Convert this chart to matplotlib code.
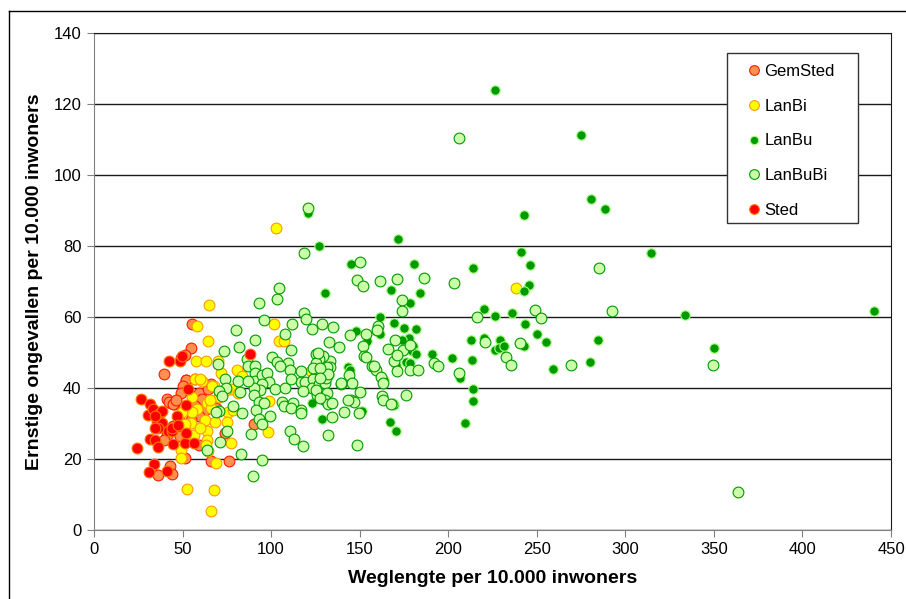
import matplotlib
matplotlib.use("Agg")
import matplotlib.pyplot as plt
from matplotlib.lines import Line2D
from matplotlib.patches import Rectangle

plt.rcParams['font.family'] = ['Liberation Sans', 'DejaVu Sans']

# GemSted
gem_x = [39.8, 54.5, 55.4, 51.8, 51.2, 41.4, 43.4, 45.3, 59.3, 61.0, 62.6, 59.3, 54.5, 47.9,
         46.3, 41.4, 44.7, 39.8, 43.0, 44.3, 36.2, 59.3, 76.1, 66.2, 51.2, 90.3, 74.0, 64.2,
         65.9, 49.0, 52.2, 50.3, 42.4, 44.6, 57.0, 36.0, 69.1, 49.4, 46.2, 48.4, 56.9]
gem_y = [43.9, 51.4, 58.1, 42.3, 49.3, 36.9, 35.8, 35.6, 38.5, 36.9, 33.7, 32.1, 31.0, 31.0,
         28.8, 26.9, 29.4, 25.4, 17.9, 15.7, 15.6, 24.0, 19.5, 19.5, 20.2, 29.9, 27.2, 39.6,
         41.2, 48.4, 42.2, 40.7, 36.1, 35.6, 35.0, 30.0, 34.4, 38.6, 36.7, 26.4, 42.4]

# LanBi
bi_x = [102.7, 65.2, 58.4, 64.4, 101.7, 104.6, 107.3, 57.7, 63.3, 70.2, 80.5, 71.7, 61.0, 67.5,
        77.3, 81.5, 70.8, 55.4, 63.6, 65.9, 58.4, 55.1, 62.6, 68.2, 75.7, 75.0, 54.5, 49.6,
        51.2, 63.6, 56.7, 63.6, 63.3, 48.9, 48.9, 77.6, 98.5, 98.8, 69.1, 52.5, 67.8, 66.2,
        238.0, 74.7, 64.2, 60.0, 56.9, 60.1, 66.4, 83.8, 78.5, 65.4, 122.7]
bi_y = [85.1, 63.4, 57.4, 53.1, 58.1, 53.3, 53.3, 47.5, 47.6, 47.5, 45.2, 44.3, 42.1, 40.7,
        39.8, 38.5, 37.4, 37.4, 35.8, 34.4, 34.0, 33.1, 31.0, 30.5, 33.1, 30.5, 30.1, 33.1,
        29.9, 27.8, 26.7, 25.3, 24.0, 22.4, 20.2, 24.5, 27.5, 36.4, 18.8, 11.5, 11.3, 5.3,
        68.2, 39.4, 22.2, 28.8, 42.6, 42.4, 40.5, 43.4, 33.9, 36.7, 44.7]

# LanBu
bu_x = [226.3, 275.2, 280.4, 288.3, 242.6, 121.0, 126.8, 171.5, 314.3, 241.3, 180.6, 145.1,
        214.2, 245.9, 130.4, 167.9, 184.2, 245.5, 242.6, 178.7, 440.5, 333.9, 226.3, 235.8,
        220.1, 161.7, 169.5, 243.3, 175.1, 182.0, 148.0, 159.1, 161.7, 154.2, 178.0, 174.1,
        212.6, 220.1, 250.1, 255.3, 229.2, 230.5, 226.6, 284.3, 350.2, 242.6, 180.0, 179.3,
        181.6, 191.1, 202.2, 213.6, 176.1, 169.2, 178.7, 170.5, 280.1, 258.9, 206.7, 163.7,
        214.2, 213.9, 169.5, 168.6, 123.3, 151.3, 128.5, 167.3, 209.3, 170.5, 143.5, 144.5,
        132.5, 228.7, 231.3]
bu_y = [123.9, 111.2, 93.3, 90.4, 88.6, 89.3, 80.1, 82.0, 78.1, 78.3, 75.0, 74.8,
        73.9, 74.6, 66.7, 67.6, 66.8, 69.1, 67.3, 64.0, 61.8, 60.6, 60.3, 61.1,
        62.2, 60.0, 58.3, 58.1, 57.0, 56.7, 56.0, 56.0, 55.1, 53.1, 54.2, 53.6,
        53.6, 54.1, 55.2, 52.9, 53.4, 51.2, 50.8, 53.5, 51.2, 51.9, 51.9, 50.4,
        49.7, 49.7, 48.4, 47.8, 47.3, 47.3, 47.1, 46.5, 47.2, 45.4, 42.8, 42.2,
        39.8, 36.4, 35.1, 35.8, 35.7, 33.4, 31.2, 30.3, 30.2, 28.0, 45.8, 45.0,
        43.8, 51.3, 51.8]

# LanBuBi
bubi_x = [150.4, 148.5, 151.9, 161.3, 170.9, 186.3, 203.1, 173.9, 173.7, 216.1, 135.0, 160.4,
          159.6, 138.3, 144.4, 153.8, 151.9, 152.7, 153.8, 157.0, 159.4, 161.9, 163.2, 169.8,
          166.2, 174.7, 178.4, 169.4, 171.3, 178.4, 191.8, 194.4, 206.1, 150.4, 144.9, 146.8,
          141.0, 149.4, 162.6, 163.2, 167.7, 176.0, 148.5, 144.0, 145.7, 139.7, 133.1, 133.1,
          118.8, 104.7, 103.4, 93.2, 118.8, 119.5, 96.2, 111.6, 122.9, 128.6, 80.0, 91.1,
          108.1, 81.6, 132.7, 111.5, 73.3, 100.6, 103.6, 109.6, 110.4, 105.0, 86.4, 87.0,
          90.8, 90.9, 90.8, 94.7, 97.9, 98.7, 95.1, 93.6, 90.5, 90.5, 92.9, 91.7,
          93.0, 95.1, 99.2, 81.2, 73.8, 74.4, 70.3, 72.0, 82.7, 78.2, 83.6, 70.3,
          75.1, 71.0, 63.8, 82.9, 88.9, 94.9, 89.6, 110.9, 112.9, 118.2, 116.7, 119.4,
          123.7, 123.3, 126.9, 130.3, 131.2, 131.8, 129.3, 125.6, 127.1, 132.1, 125.9, 131.4,
          130.3, 132.1, 134.6, 134.2, 132.1, 139.5, 143.6, 120.7, 206.1, 285.3, 292.5, 249.1,
          252.4, 240.3, 232.8, 235.4, 269.3, 349.6, 363.6, 220.7, 69.9, 69.1,
          117.1, 87.0, 102.4, 107.7, 111.5, 118.0, 95.8, 106.2, 107.3, 112.6, 111.5, 116.7,
          171.1, 125.6, 123.7, 127.8, 127.4, 125.6, 127.4, 117.1, 126.5, 157.9, 182.9]
bubi_y = [75.6, 70.3, 68.6, 70.2, 70.7, 71.1, 69.6, 64.7, 61.8, 60.1, 57.1, 57.6,
          56.2, 51.5, 55.0, 55.2, 51.7, 49.1, 48.6, 46.3, 45.2, 43.1, 41.4, 53.4,
          51.1, 50.6, 52.0, 47.6, 44.8, 45.2, 47.1, 46.3, 44.2, 38.9, 36.7, 36.0,
          33.1, 33.0, 37.8, 36.5, 35.6, 38.1, 24.0, 43.6, 41.4, 41.2, 47.5, 45.9,
          78.0, 68.2, 65.1, 64.0, 61.1, 59.5, 59.2, 58.0, 56.6, 58.1, 56.2, 53.6,
          55.3, 51.6, 53.0, 50.6, 50.3, 48.6, 47.4, 47.1, 45.1, 46.1, 48.2, 46.1,
          46.1, 44.3, 41.9, 43.7, 44.3, 41.7, 41.0, 39.5, 39.9, 38.1, 36.1, 33.9,
          31.4, 30.0, 32.0, 41.9, 42.4, 40.0, 39.1, 37.7, 38.9, 35.0, 33.0, 33.4,
          27.8, 24.8, 22.4, 21.5, 27.1, 19.6, 15.3, 27.8, 25.6, 23.6, 41.6, 41.6,
          42.6, 40.0, 41.1, 41.4, 42.8, 45.8, 48.9, 49.7, 48.2, 44.0, 37.9, 38.6,
          36.5, 35.6, 35.8, 31.7, 26.9, 41.4, 36.7, 90.7, 110.3, 73.7, 61.7, 61.9,
          59.7, 52.7, 48.6, 46.6, 46.4, 46.4, 10.7, 52.9, 46.9, 33.1,
          44.7, 41.9, 39.7, 40.0, 42.4, 39.1, 35.8, 36.0, 34.8, 35.8, 34.4, 33.9,
          49.4, 47.1, 45.7, 45.7, 42.8, 39.5, 37.2, 33.0, 49.9, 46.1, 45.2]

# Sted
sted_x = [24.1, 26.7, 31.6, 30.7, 33.3, 37.5, 35.5, 38.2, 31.6, 34.6, 35.9, 33.6, 31.3, 41.4,
          41.7, 44.3, 44.7, 51.2, 56.7, 51.8, 46.6, 51.8, 52.8, 42.4, 48.6, 49.9, 88.0, 38.2,
          43.9, 36.2, 47.3, 34.3, 34.3]
sted_y = [23.2, 36.9, 35.6, 32.3, 34.0, 32.9, 30.5, 30.1, 25.6, 25.3, 23.5, 18.6, 16.2, 16.5,
          28.0, 28.0, 24.3, 24.5, 24.5, 27.2, 32.1, 35.3, 39.8, 47.6, 47.7, 49.1, 49.5, 33.4,
          28.6, 28.6, 29.7, 32.2, 28.8]

series = [
    ("GemSted", gem_x, gem_y, "#FF9050", "#FF1A00", 60),
    ("LanBi", bi_x, bi_y, "#FFFF00", "#FF9900", 60),
    ("LanBu", bu_x, bu_y, "#009900", "#A6FF7F", 46),
    ("LanBuBi", bubi_x, bubi_y, "#CCFFAA", "#009900", 60),
    ("Sted", sted_x, sted_y, "#FF0000", "#FF7700", 60),
]

fig = plt.figure(figsize=(9.06, 5.99), dpi=100)
ax = fig.add_axes([94 / 906, 1 - 530 / 599, 797 / 906, 497 / 599])

handles = []
for name, xs, ys, fc, ec, s in series:
    ax.scatter(xs, ys, s=s, c=fc, edgecolors=ec, linewidths=0.8, zorder=3)
    handles.append(Line2D([], [], ls="none", marker="o", ms=7 if s > 50 else 6,
                          mfc=fc, mec=ec, mew=0.8, label=name))

ax.set_xlim(0, 450)
ax.set_ylim(0, 140)
ax.set_xticks(range(0, 451, 50))
ax.set_yticks(range(0, 141, 20))
ax.yaxis.grid(True, color="#1a1a1a", lw=1)
ax.set_axisbelow(True)
for side in ["left", "bottom"]:
    ax.spines[side].set_color("#808080")
for side in ["top", "right"]:
    ax.spines[side].set_color("#1a1a1a")
ax.tick_params(length=5, color="#808080", labelsize=12, pad=4)

ax.set_xlabel("Weglengte per 10.000 inwoners", fontsize=14, fontweight="bold", labelpad=9)
ax.set_ylabel("Ernstige ongevallen per 10.000 inwoners", fontsize=14, fontweight="bold", labelpad=8)

# legend box
ax.add_patch(Rectangle((727 / 906, 1 - 223 / 599), 131 / 906, 170 / 599, transform=fig.transFigure,
                       facecolor="white", edgecolor="#333333", lw=1, zorder=4, clip_on=False))
leg = ax.legend(handles=handles, loc="upper left", bbox_to_anchor=(746 / 906, 1 - 64 / 599),
                bbox_transform=fig.transFigure, fontsize=12, frameon=False,
                borderpad=0, borderaxespad=0, labelspacing=1.18,
                handlelength=1.0, handletextpad=0.1)
leg.set_zorder(5)

# outer chart border
fig.add_artist(Line2D([9 / 906, 9 / 906], [0, 1 - 11 / 599], color="black", lw=1))
fig.add_artist(Line2D([9 / 906, 1], [1 - 11 / 599, 1 - 11 / 599], color="black", lw=1))

fig.savefig("out.png", dpi=100)
